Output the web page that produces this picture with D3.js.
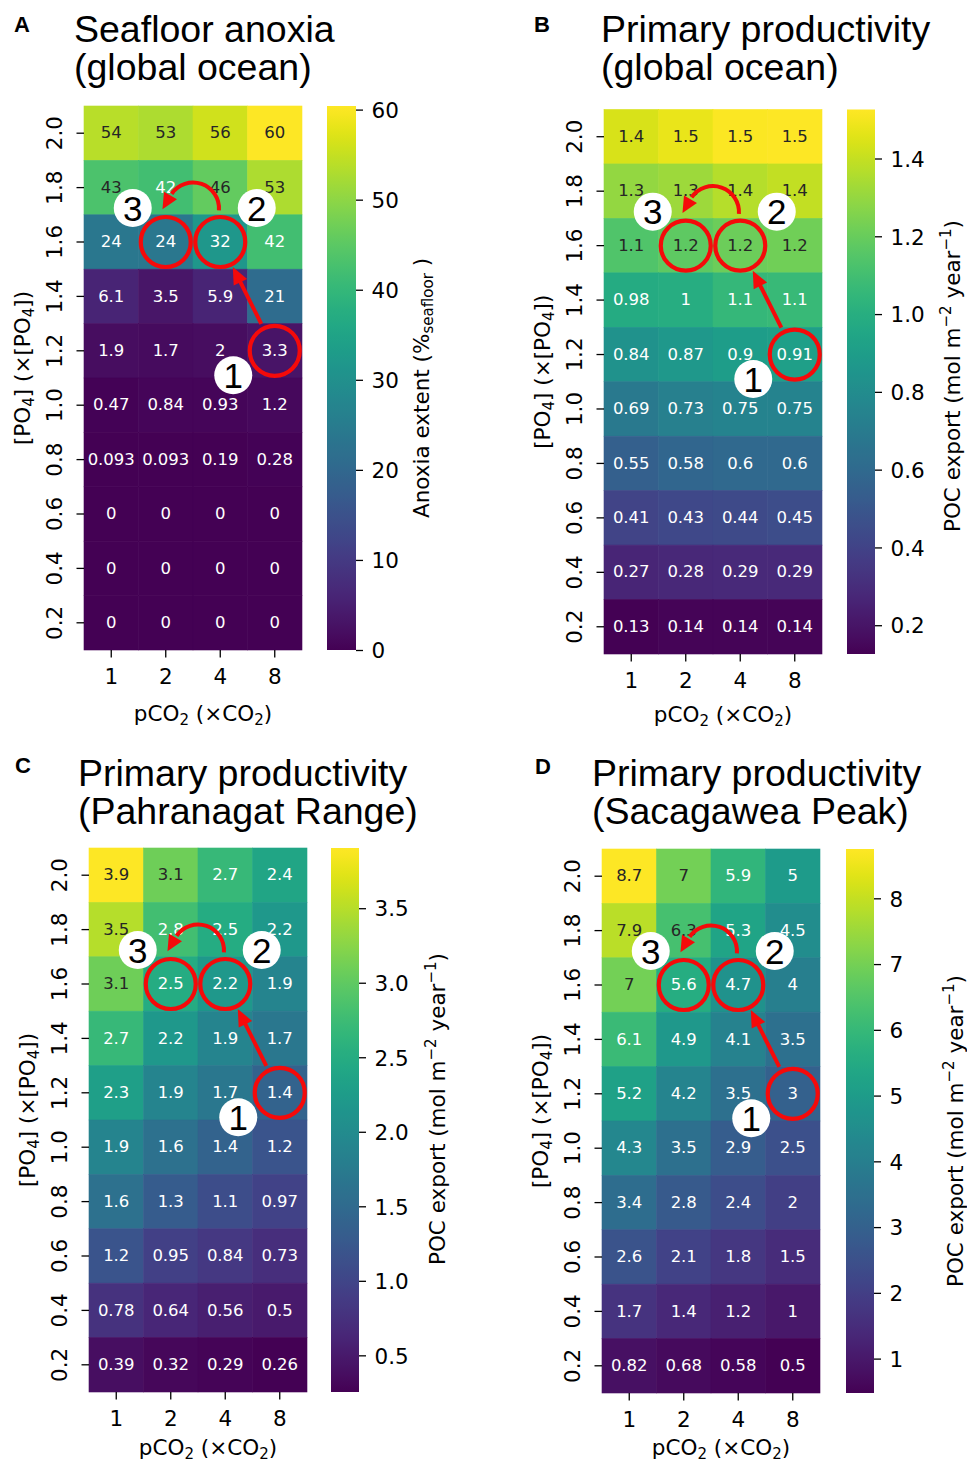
<!DOCTYPE html>
<html><head><meta charset="utf-8">
<script src="https://cdn.jsdelivr.net/npm/d3@7"></script>
<style>body{margin:0;background:#fff} svg{display:block}</style>
</head><body>
<svg id="chart" width="967" height="1463"></svg>
<script>
// ---------------- DATA ----------------
const pco2Labels = ["1", "2", "4", "8"];
const po4Labels = ["2.0", "1.8", "1.6", "1.4", "1.2", "1.0", "0.8", "0.6", "0.4", "0.2"];

// rows: [PO4] 2.0 -> 0.2 ; columns: pCO2 1, 2, 4, 8
const anoxiaValues = [
  [54, 53, 56, 60.4],
  [43.3, 42, 46, 53],
  [24, 24, 32, 42],
  [6.1, 3.5, 5.9, 21],
  [1.9, 1.7, 2, 3.3],
  [0.47, 0.84, 0.93, 1.2],
  [0.093, 0.093, 0.19, 0.28],
  [0, 0, 0, 0],
  [0, 0, 0, 0],
  [0, 0, 0, 0]
];
const globalPocValues = [
  [1.44, 1.48, 1.52, 1.53],
  [1.30, 1.32, 1.37, 1.40],
  [1.14, 1.18, 1.21, 1.22],
  [0.98, 1.0, 1.06, 1.07],
  [0.84, 0.87, 0.9, 0.91],
  [0.69, 0.73, 0.75, 0.75],
  [0.55, 0.58, 0.6, 0.6],
  [0.41, 0.43, 0.44, 0.45],
  [0.27, 0.28, 0.29, 0.29],
  [0.13, 0.14, 0.14, 0.14]
];
const pahranagatPocValues = [
  [3.9, 3.1, 2.7, 2.4],
  [3.5, 2.8, 2.5, 2.2],
  [3.1, 2.5, 2.2, 1.9],
  [2.7, 2.2, 1.9, 1.7],
  [2.3, 1.9, 1.7, 1.4],
  [1.9, 1.6, 1.4, 1.2],
  [1.6, 1.3, 1.1, 0.97],
  [1.2, 0.95, 0.84, 0.73],
  [0.78, 0.64, 0.56, 0.5],
  [0.39, 0.32, 0.29, 0.256]
];
const sacagaweaPocValues = [
  [8.74, 7, 5.9, 5],
  [7.9, 6.3, 5.3, 4.5],
  [7, 5.6, 4.7, 4],
  [6.1, 4.9, 4.1, 3.5],
  [5.2, 4.2, 3.5, 3],
  [4.3, 3.5, 2.9, 2.5],
  [3.4, 2.8, 2.4, 2],
  [2.6, 2.1, 1.8, 1.5],
  [1.7, 1.4, 1.2, 1],
  [0.82, 0.68, 0.58, 0.5]
];

const anoxiaLimits = [0, 60.4];
const globalPocLimits = [0.126, 1.526];
const pahranagatPocLimits = [0.254, 3.904];
const sacagaweaPocLimits = [0.477, 8.75];

const anoxiaTicks = [0, 10, 20, 30, 40, 50, 60];
const globalPocTicks = [0.2, 0.4, 0.6, 0.8, 1.0, 1.2, 1.4];
const pahranagatPocTicks = [0.5, 1.0, 1.5, 2.0, 2.5, 3.0, 3.5];
const sacagaweaPocTicks = [1, 2, 3, 4, 5, 6, 7, 8];

// scenario path: 1 -> 2 -> 3  as [pCO2, PO4]
const scenarioCells = [["8", "1.2"], ["4", "1.6"], ["2", "1.6"]];
const scenarioNames = ["1", "2", "3"];

// ---------------- LAYOUT ----------------
const panels = [
  {letter: "A", title: ["Seafloor anoxia", "(global ocean)"], values: anoxiaValues, limits: anoxiaLimits,
   ticks: anoxiaTicks, tickFmt: "d", cbKind: "anoxia",
   hx: 84, hy: 106, hw: 218, hh: 544, cx: 327, cw: 29, xlab: 71,
   lx: 14, ly: 32, tx: 74, ty: 42, cbLabelX: 429, cbLabelY: 388},
  {letter: "B", title: ["Primary productivity", "(global ocean)"], values: globalPocValues, limits: globalPocLimits,
   ticks: globalPocTicks, tickFmt: ".1f", cbKind: "poc",
   hx: 604, hy: 109.5, hw: 218, hh: 544.5, cx: 847, cw: 28, xlab: 68,
   lx: 534, ly: 32, tx: 601, ty: 42, cbLabelX: 960, cbLabelY: 376},
  {letter: "C", title: ["Primary productivity", "(Pahranagat Range)"], values: pahranagatPocValues, limits: pahranagatPocLimits,
   ticks: pahranagatPocTicks, tickFmt: ".1f", cbKind: "poc",
   hx: 89, hy: 848, hw: 218, hh: 544, cx: 331, cw: 28, xlab: 63,
   lx: 15, ly: 773, tx: 78, ty: 786, cbLabelX: 445, cbLabelY: 1109},
  {letter: "D", title: ["Primary productivity", "(Sacagawea Peak)"], values: sacagaweaPocValues, limits: sacagaweaPocLimits,
   ticks: sacagaweaPocTicks, tickFmt: "d", cbKind: "poc",
   hx: 602, hy: 849, hw: 218, hh: 544, cx: 846, cw: 28, xlab: 62,
   lx: 535, ly: 774, tx: 592, ty: 786, cbLabelX: 963, cbLabelY: 1131}
];

const SANS = "'DejaVu Sans', sans-serif";
const ARIAL = "'Liberation Sans', Arial, sans-serif";
const FS = 21.5;       // tick / axis label font size
const RED = "#f50a0a";

const svg = d3.select("#chart");
const fmtCell = d3.format(".2~g");

function luminance(c) {
  const rgb = d3.rgb(c);
  const f = v => { v /= 255; return v <= 0.03928 ? v / 12.92 : Math.pow((v + 0.055) / 1.055, 2.4); };
  return 0.2126 * f(rgb.r) + 0.7152 * f(rgb.g) + 0.0722 * f(rgb.b);
}

// rich text helper: parts [{t, sub, sup}]
function richText(sel, parts, fs) {
  let pending = 0;
  parts.forEach(p => {
    let shift = 0;
    if (p.sub) shift = 0.2 * fs;
    if (p.sup) shift = -0.42 * fs;
    const ts = sel.append("tspan").text(p.t);
    const dy = pending + shift;
    if (dy) ts.attr("dy", dy);
    if (shift) ts.attr("font-size", (fs * 0.7) + "px");
    pending = -shift;
  });
}

panels.forEach((P, pi) => {
  const g = svg.append("g");
  const x = d3.scaleBand().domain(pco2Labels).range([P.hx, P.hx + P.hw]);
  const y = d3.scaleBand().domain(po4Labels).range([P.hy, P.hy + P.hh]);
  const color = d3.scaleSequential(d3.interpolateViridis).domain(P.limits).clamp(true);

  // panel letter + title
  g.append("text").attr("x", P.lx).attr("y", P.ly).text(P.letter)
    .attr("font-family", ARIAL).attr("font-weight", "bold").attr("font-size", "22px");
  const t = g.append("text").attr("font-family", ARIAL).attr("font-size", "37.5px").attr("fill", "#000");
  P.title.forEach((line, i) => {
    t.append("tspan").attr("x", P.tx).attr("y", P.ty + i * 38).text(line);
  });

  // cells
  const cells = [];
  P.values.forEach((row, ri) => row.forEach((v, ci) => cells.push({r: po4Labels[ri], c: pco2Labels[ci], v})));
  g.selectAll("rect.cell").data(cells).join("rect")
    .attr("x", d => x(d.c)).attr("y", d => y(d.r))
    .attr("width", x.bandwidth()).attr("height", y.bandwidth())
    .attr("fill", d => color(d.v)).attr("stroke", d => color(d.v)).attr("stroke-width", 0.6);
  g.selectAll("text.ann").data(cells).join("text")
    .attr("x", d => x(d.c) + x.bandwidth() / 2)
    .attr("y", d => y(d.r) + y.bandwidth() / 2)
    .attr("dy", "0.31em")
    .attr("text-anchor", "middle")
    .attr("font-family", SANS).attr("font-size", "16.5px")
    .attr("fill", d => luminance(color(d.v)) > 0.395 ? "#262626" : "#ffffff")
    .text(d => fmtCell(d.v));

  // x axis
  const gx = g.append("g").attr("transform", `translate(0,${P.hy + P.hh})`)
    .call(d3.axisBottom(x).tickSize(7.5).tickPadding(11.2));
  gx.select(".domain").remove();
  gx.selectAll(".tick line").attr("stroke", "#000").attr("stroke-width", 1.3);
  gx.selectAll(".tick text").attr("font-family", SANS).attr("font-size", FS + "px").attr("fill", "#000");

  // y axis
  const gy = g.append("g").attr("transform", `translate(${P.hx},0)`)
    .call(d3.axisLeft(y).tickSize(7.5));
  gy.select(".domain").remove();
  gy.selectAll(".tick line").attr("stroke", "#000").attr("stroke-width", 1.3);
  gy.selectAll(".tick text")
    .attr("x", 0).attr("dy", 0)
    .attr("transform", "translate(-22,0) rotate(-90)")
    .attr("text-anchor", "middle")
    .attr("font-family", SANS).attr("font-size", FS + "px").attr("fill", "#000");

  // axis labels
  const xl = g.append("text").attr("x", P.hx + P.hw / 2 + 10).attr("y", P.hy + P.hh + P.xlab)
    .attr("text-anchor", "middle").attr("font-family", SANS).attr("font-size", FS + "px");
  richText(xl, [{t: "pCO"}, {t: "2", sub: true}, {t: " (×CO"}, {t: "2", sub: true}, {t: ")"}], FS);
  const yl = g.append("text")
    .attr("transform", `translate(${P.hx - 54},${P.hy + P.hh / 2 - 10}) rotate(-90)`)
    .attr("text-anchor", "middle").attr("font-family", SANS).attr("font-size", FS + "px");
  richText(yl, [{t: "[PO"}, {t: "4", sub: true}, {t: "] (×[PO"}, {t: "4", sub: true}, {t: "])"}], FS);

  // colorbar
  const cb = d3.scaleLinear().domain(P.limits).range([P.hy + P.hh, P.hy]);
  const gradId = "grad" + pi;
  const grad = svg.append("defs").append("linearGradient").attr("id", gradId)
    .attr("x1", 0).attr("y1", 1).attr("x2", 0).attr("y2", 0);
  d3.range(0, 1.0001, 1 / 64).forEach(s => {
    grad.append("stop").attr("offset", s).attr("stop-color", d3.interpolateViridis(s));
  });
  g.append("rect").attr("x", P.cx).attr("y", cb.range()[1]).attr("width", P.cw)
    .attr("height", cb.range()[0] - cb.range()[1]).attr("fill", `url(#${gradId})`);
  const gc = g.append("g").attr("transform", `translate(${P.cx + P.cw},0)`)
    .call(d3.axisRight(cb).tickValues(P.ticks).tickFormat(d3.format(P.tickFmt)).tickSize(7).tickPadding(8.5));
  gc.select(".domain").remove();
  gc.selectAll(".tick line").attr("stroke", "#000").attr("stroke-width", 1.3);
  gc.selectAll(".tick text").attr("font-family", SANS).attr("font-size", FS + "px").attr("fill", "#000").attr("dy", "0.36em");

  const cl = g.append("text")
    .attr("transform", `translate(${P.cbLabelX},${P.cbLabelY}) rotate(-90)`)
    .attr("text-anchor", "middle").attr("font-family", SANS).attr("font-size", FS + "px");
  if (P.cbKind === "anoxia") {
    richText(cl, [{t: "Anoxia extent (%"}, {t: "seafloor", sub: true}, {t: " )"}], FS);
  } else {
    richText(cl, [{t: "POC export (mol m"}, {t: "\u22122", sup: true}, {t: " year"}, {t: "\u22121", sup: true}, {t: ")"}], FS);
  }

  // scenario annotations
  const centers = scenarioCells.map(([c, r]) => [x(c) + x.bandwidth() / 2, y(r) + y.bandwidth() / 2]);
  const [c1, c2, c3] = centers;
  const ann = g.append("g");
  ann.selectAll("circle.sc").data(centers).join("circle")
    .attr("cx", d => d[0]).attr("cy", d => d[1]).attr("r", 25)
    .attr("fill", "none").attr("stroke", RED).attr("stroke-width", 4.2);

  function head(tip, ux, uy, len, hw) {
    const bx = tip[0] - len * ux, by = tip[1] - len * uy;
    const px = -uy, py = ux;
    ann.append("path")
      .attr("d", `M${tip[0]},${tip[1]}L${bx + hw * px},${by + hw * py}L${bx - hw * px},${by - hw * py}Z`)
      .attr("fill", RED);
    return [bx, by];
  }
  // straight arrow 1 -> 2
  {
    const dx = c2[0] - c1[0], dy = c2[1] - c1[1], L = Math.hypot(dx, dy), ux = dx / L, uy = dy / L;
    const tail = [c1[0] + 30 * ux, c1[1] + 30 * uy];
    const tip = [c2[0] - 28 * ux, c2[1] - 28 * uy];
    const b = head(tip, ux, uy, 17, 7.5);
    ann.append("line").attr("x1", tail[0]).attr("y1", tail[1])
      .attr("x2", b[0] + 2 * ux).attr("y2", b[1] + 2 * uy)
      .attr("stroke", RED).attr("stroke-width", 4);
  }
  // curved arrow 2 -> 3
  {
    const mx = (c2[0] + c3[0]) / 2, my = c2[1] - 33.5, r = 26;
    const a0 = 4 * Math.PI / 180, a1 = -150 * Math.PI / 180;
    const p = d3.path();
    p.moveTo(mx + r * Math.cos(a0), my + r * Math.sin(a0));
    p.arc(mx, my, r, a0, a1 + 0.08, true);
    ann.append("path").attr("d", p.toString()).attr("fill", "none").attr("stroke", RED).attr("stroke-width", 4);
    const bx = mx + r * Math.cos(a1), by = my + r * Math.sin(a1);
    const ux = Math.sin(a1), uy = -Math.cos(a1);
    const len = 16;
    head([bx + len * ux, by + len * uy], ux, uy, len, 7.5);
  }
  // numbered markers
  const markerPos = [[c1[0] - 41.5, c1[1] + 24.5], [c2[0] + 36.5, c2[1] - 34], [c3[0] - 33, c3[1] - 34]];
  const mk = ann.selectAll("g.mk").data(markerPos).join("g")
    .attr("transform", d => `translate(${d[0]},${d[1]})`);
  mk.append("circle").attr("r", 19).attr("fill", "#fff");
  mk.append("text").attr("text-anchor", "middle").attr("dy", "0.36em")
    .attr("font-family", ARIAL).attr("font-size", "35px").attr("fill", "#000")
    .text((d, i) => scenarioNames[i]);
});
</script>
</body></html>
